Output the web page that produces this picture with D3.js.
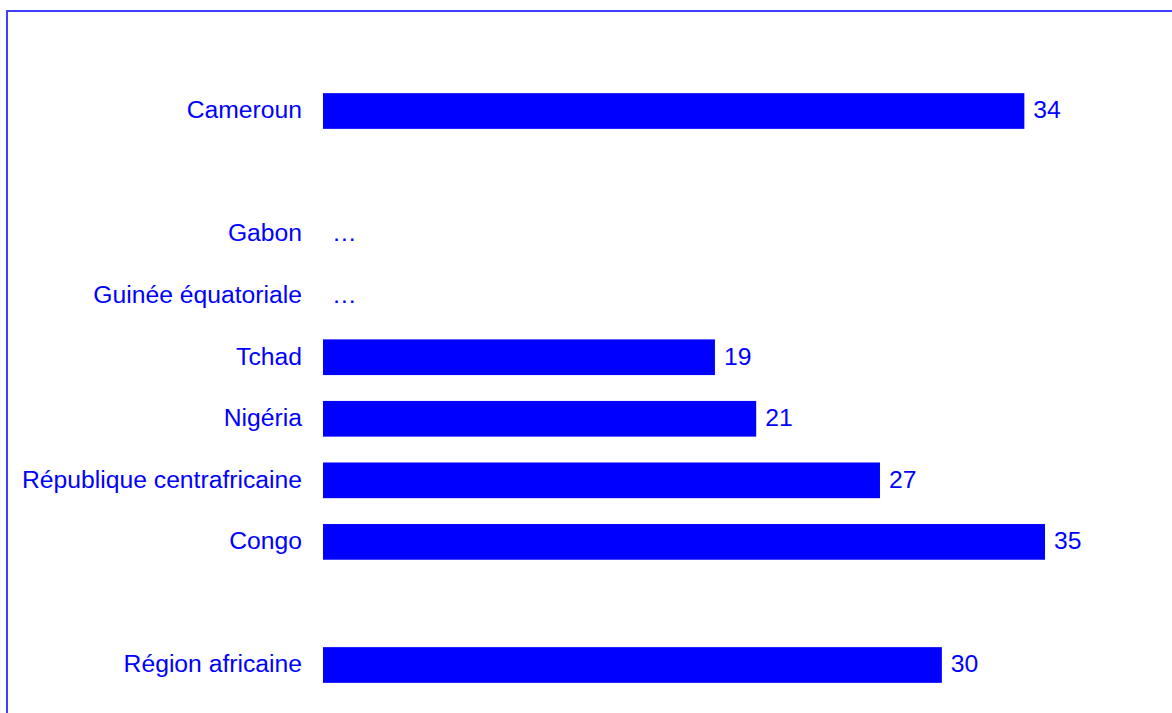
<!DOCTYPE html>
<html>
<head>
<meta charset="utf-8">
<script src="https://cdn.jsdelivr.net/npm/d3@7"></script>
<style>
    body { margin: 0; background: #fff; }
    text { font-family: "Liberation Sans", Arial, sans-serif; }
</style>
</head>
<body>
<div id="chart"></div>
<script>
// Rows from top to bottom ("" = empty spacer row)
var categories = ["Cameroun", "", "Gabon", "Guinée équatoriale", "Tchad", "Nigéria",
    "République centrafricaine", "Congo", "", "Région africaine"];
// null = no data shown as "…"
var values = [34, null, null, null, 19, 21, 27, 35, null, 30];
var missingLabel = "…";

var width = 1172, height = 713;

var svg = d3.select("#chart")
    .append("svg")
    .attr("width", width)
    .attr("height", height);

// frame around the chart, runs off the right and bottom edges
svg.append("rect")
    .attr("x", 7)
    .attr("y", 11)
    .attr("width", 1200)
    .attr("height", 800)
    .attr("fill", "none")
    .attr("stroke", "#4040ff")
    .attr("stroke-width", 2);

var y = d3.scaleBand()
    .domain(d3.range(categories.length))
    .range([67.3, 708.7])
    .padding(0.42);

var x = d3.scaleLinear()
    .domain([0, 35])
    .range([323, 1045]);

var rows = categories.map(function(c, i) {
    return {name: c, value: values[i], i: i};
}).filter(function(d) { return d.name !== ""; });

// category labels
svg.append("g").selectAll("text")
    .data(rows)
    .enter().append("text")
    .attr("x", 302)
    .attr("y", function(d) { return y(d.i) + y.bandwidth() / 2 + 7.3; })
    .attr("text-anchor", "end")
    .attr("font-size", "24.7px")
    .attr("fill", "#0000ff")
    .text(function(d) { return d.name; });

// bars
svg.append("g").selectAll("rect")
    .data(rows.filter(function(d) { return d.value != null; }))
    .enter().append("rect")
    .attr("x", x(0))
    .attr("y", function(d) { return y(d.i); })
    .attr("width", function(d) { return x(d.value) - x(0); })
    .attr("height", y.bandwidth())
    .attr("fill", "#0000ff");

// value labels
svg.append("g").selectAll("text")
    .data(rows)
    .enter().append("text")
    .attr("x", function(d) { return x(d.value == null ? 0 : d.value) + 9; })
    .attr("y", function(d) { return y(d.i) + y.bandwidth() / 2 + 7.3; })
    .attr("font-size", "24.7px")
    .attr("fill", "#0000ff")
    .text(function(d) { return d.value == null ? missingLabel : d.value; });
</script>
</body>
</html>
